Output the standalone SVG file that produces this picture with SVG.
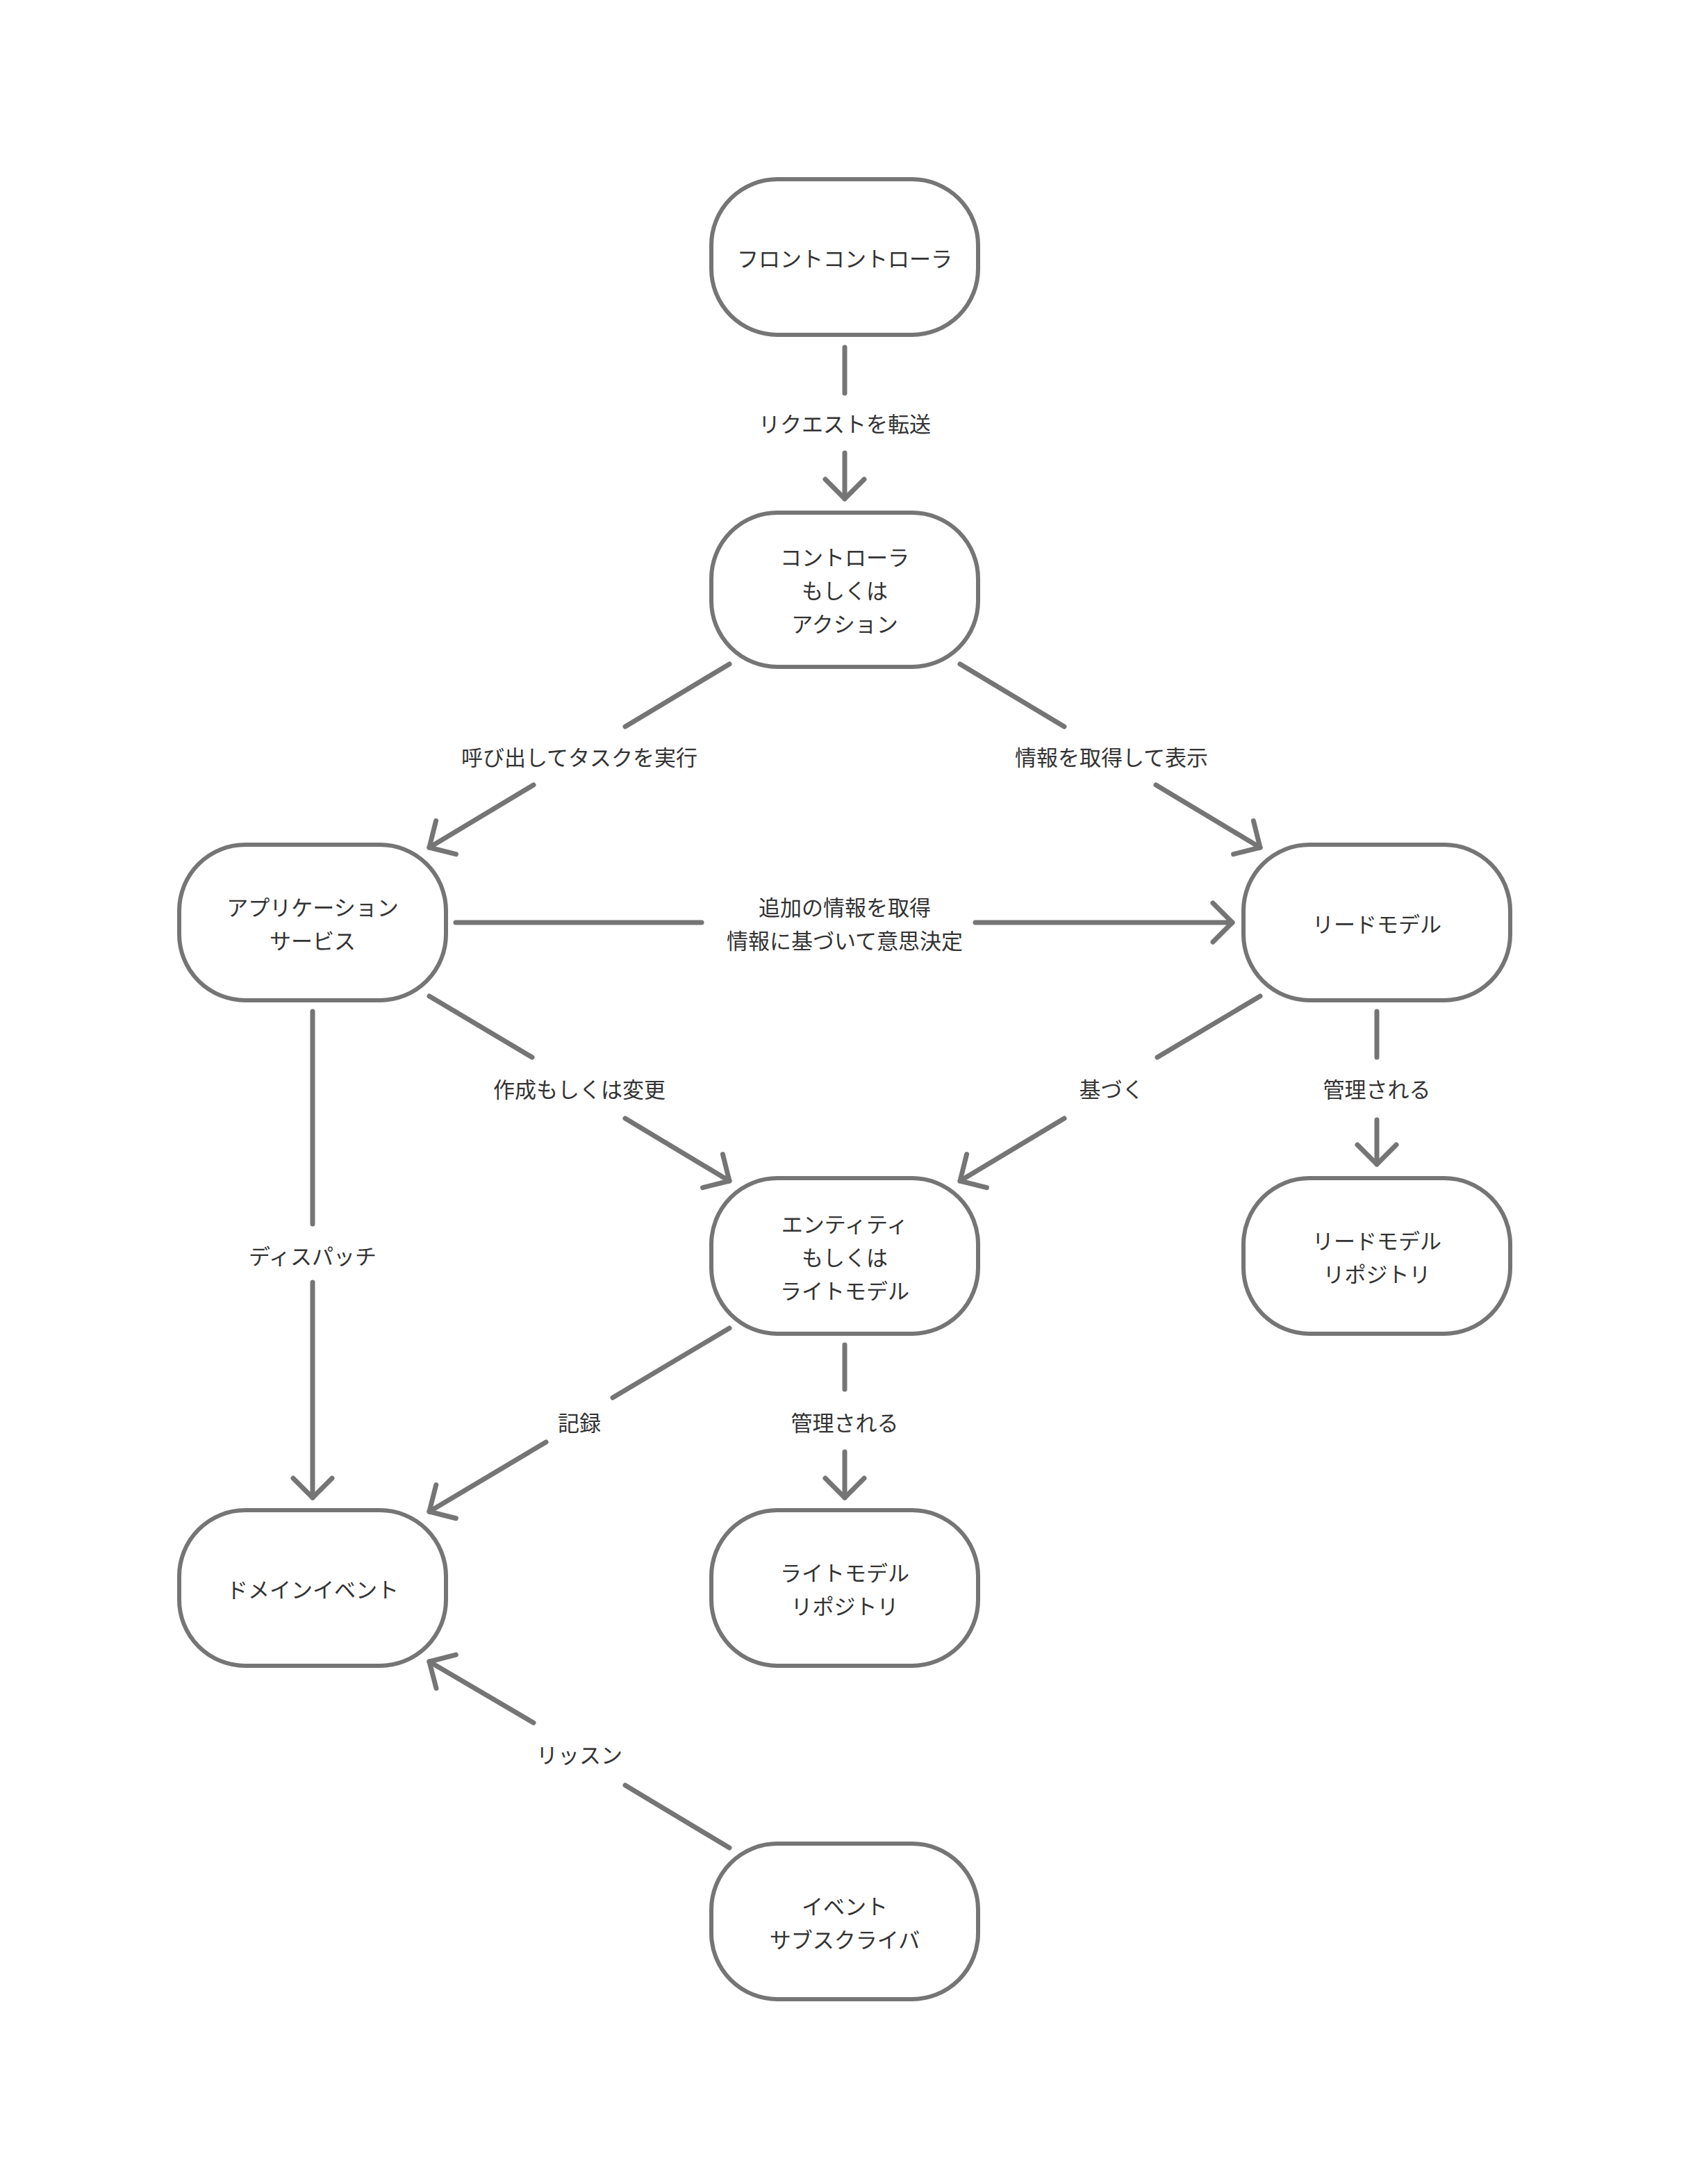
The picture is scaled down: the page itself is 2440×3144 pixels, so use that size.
<svg xmlns="http://www.w3.org/2000/svg" width="2440" height="3144" viewBox="0 0 2440 3144">
<style>
.n{fill:#fff;stroke:#757575;stroke-width:6}
.c line{stroke:#757575;stroke-width:7;stroke-linecap:round;fill:none}
text{font-family:"Noto Sans CJK JP","Noto Sans",sans-serif;font-size:31px;fill:#333;text-anchor:middle;dominant-baseline:central}
</style>
<defs>
<marker id="a" markerUnits="userSpaceOnUse" markerWidth="80" markerHeight="80" refX="40" refY="40" orient="auto" viewBox="0 0 80 80">
<path d="M12,12 L40,40 L12,68" fill="none" stroke="#757575" stroke-width="7" stroke-linecap="round" stroke-linejoin="round"/>
</marker>
</defs>
<rect width="2440" height="3144" fill="#fff"/>
<g id="front"><rect class="n" x="1024" y="258" width="384" height="224" rx="95"/><text x="1216" y="370">フロントコントローラ</text></g>
<g id="controller"><rect class="n" x="1024" y="738" width="384" height="222" rx="95"/><text x="1216" y="800">コントローラ</text><text x="1216" y="848">もしくは</text><text x="1216" y="896">アクション</text></g>
<g id="appservice"><rect class="n" x="258" y="1216" width="384" height="224" rx="95"/><text x="450" y="1304">アプリケーション</text><text x="450" y="1352">サービス</text></g>
<g id="readmodel"><rect class="n" x="1790" y="1216" width="384" height="224" rx="95"/><text x="1982" y="1328">リードモデル</text></g>
<g id="entity"><rect class="n" x="1024" y="1696" width="384" height="224" rx="95"/><text x="1216" y="1760">エンティティ</text><text x="1216" y="1808">もしくは</text><text x="1216" y="1856">ライトモデル</text></g>
<g id="readrepo"><rect class="n" x="1790" y="1696" width="384" height="224" rx="95"/><text x="1982" y="1784">リードモデル</text><text x="1982" y="1832">リポジトリ</text></g>
<g id="domainevent"><rect class="n" x="258" y="2174" width="384" height="224" rx="95"/><text x="450" y="2286">ドメインイベント</text></g>
<g id="writerepo"><rect class="n" x="1024" y="2174" width="384" height="224" rx="95"/><text x="1216" y="2262">ライトモデル</text><text x="1216" y="2310">リポジトリ</text></g>
<g id="subscriber"><rect class="n" x="1024" y="2654" width="384" height="224" rx="95"/><text x="1216" y="2742">イベント</text><text x="1216" y="2790">サブスクライバ</text></g>
<g id="connectors" class="c">
<line x1="1216" y1="500" x2="1216" y2="566"/><line x1="1216" y1="652" x2="1216" y2="718" marker-end="url(#a)"/><text x="1216" y="608">リクエストを転送</text>
<line x1="1050" y1="956" x2="900" y2="1046"/><line x1="768" y1="1130" x2="618" y2="1220" marker-end="url(#a)"/><text x="834" y="1088">呼び出してタスクを実行</text>
<line x1="1382" y1="956" x2="1532" y2="1046"/><line x1="1664" y1="1130" x2="1814" y2="1220" marker-end="url(#a)"/><text x="1600" y="1088">情報を取得して表示</text>
<line x1="656" y1="1328" x2="1010" y2="1328"/><line x1="1404" y1="1328" x2="1774" y2="1328" marker-end="url(#a)"/><text x="1216" y="1304">追加の情報を取得</text><text x="1216" y="1352">情報に基づいて意思決定</text>
<line x1="618" y1="1434" x2="766" y2="1522"/><line x1="900" y1="1610" x2="1050" y2="1700" marker-end="url(#a)"/><text x="834" y="1566">作成もしくは変更</text>
<line x1="1814" y1="1434" x2="1666" y2="1522"/><line x1="1532" y1="1610" x2="1382" y2="1700" marker-end="url(#a)"/><text x="1600" y="1566">基づく</text>
<line x1="1982" y1="1456" x2="1982" y2="1522"/><line x1="1982" y1="1612" x2="1982" y2="1676" marker-end="url(#a)"/><text x="1982" y="1566">管理される</text>
<line x1="450" y1="1456" x2="450" y2="1762"/><line x1="450" y1="1846" x2="450" y2="2156" marker-end="url(#a)"/><text x="450" y="1806">ディスパッチ</text>
<line x1="1050" y1="1912" x2="882" y2="2012"/><line x1="786" y1="2076" x2="618" y2="2176" marker-end="url(#a)"/><text x="834" y="2046">記録</text>
<line x1="1216" y1="1936" x2="1216" y2="2000"/><line x1="1216" y1="2090" x2="1216" y2="2156" marker-end="url(#a)"/><text x="1216" y="2046">管理される</text>
<line x1="1050" y1="2660" x2="900" y2="2570"/><line x1="768" y1="2480" x2="618" y2="2392" marker-end="url(#a)"/><text x="834" y="2524">リッスン</text>
</g>
</svg>
